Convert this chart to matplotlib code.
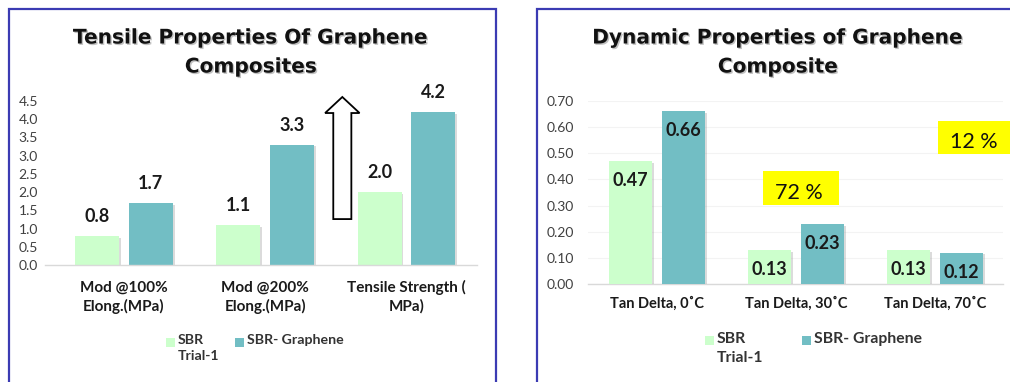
import matplotlib
matplotlib.use("Agg")
import matplotlib.pyplot as plt
import matplotlib.patheffects as pe
import matplotlib.transforms as mtransforms
from matplotlib.patches import Rectangle, Polygon
import numpy as np

# ---- data ----
series_names = ["SBR\nTrial-1", "SBR- Graphene"]

tensile_categories = ["Mod @100%\nElong.(MPa)", "Mod @200%\nElong.(MPa)", "Tensile Strength (\nMPa)"]
tensile_sbr = [0.8, 1.1, 2.0]
tensile_graphene = [1.7, 3.3, 4.2]
tensile_ticks = [0.0, 0.5, 1.0, 1.5, 2.0, 2.5, 3.0, 3.5, 4.0, 4.5]

dynamic_categories = ["Tan Delta, 0˚C", "Tan Delta, 30˚C", "Tan Delta, 70˚C"]
dynamic_sbr = [0.47, 0.13, 0.13]
dynamic_graphene = [0.66, 0.23, 0.12]
dynamic_ticks = [0.00, 0.10, 0.20, 0.30, 0.40, 0.50, 0.60, 0.70]
dynamic_callouts = ["72 %", "12 %"]

# ---- style ----
W, H = 1010, 382
C_SBR = "#ccffcc"
C_GRA = "#72bec4"
C_FRAME = "#3b3bb3"
TXT = "#1a1a1a"
BODY = ["Lato", "DejaVu Sans"]
TITLE = ["DejaVu Sans"]

fig = plt.figure(figsize=(W / 100, H / 100), dpi=100)
fig.patch.set_facecolor("white")


def fx(x):
    return x / W


def fy(y):
    return 1 - y / H


def px_axes(x0, y0, x1, y1):
    return fig.add_axes([fx(x0), fy(y1), (x1 - x0) / W, (y1 - y0) / H])


shadow = [pe.withSimplePatchShadow(offset=(1.2, -1.2), shadow_rgbFace="#999999", alpha=0.35)]
title_fx = [pe.withSimplePatchShadow(offset=(1, -1), shadow_rgbFace="#777777", alpha=0.45)]

# panel frames
fig.patches.append(Rectangle((fx(8.5), fy(400)), (495.5 - 8.5) / W, (400 - 8.5) / H,
                             transform=fig.transFigure, fill=False, ec=C_FRAME, lw=1.6))
fig.patches.append(Rectangle((fx(536.5), fy(400)), (1030 - 536.5) / W, (400 - 8.5) / H,
                             transform=fig.transFigure, fill=False, ec=C_FRAME, lw=1.6))


def style_axes(ax, ticks, fmt, pad):
    for s in ["top", "right", "left"]:
        ax.spines[s].set_visible(False)
    ax.spines["bottom"].set_color("#d9d9d9")
    ax.spines["bottom"].set_linewidth(1.0)
    ax.set_yticks(ticks)
    ax.set_yticklabels([fmt.format(t) for t in ticks], fontfamily=BODY, fontsize=10, color="#404040")
    ax.tick_params(axis="y", length=0, pad=pad)
    ax.set_xticks([])
    ax.set_facecolor("none")


def draw_legend(x_sbr, x_gra, y, size):
    for xm, col, name in [(x_sbr, C_SBR, series_names[0]), (x_gra, C_GRA, series_names[1])]:
        fig.patches.append(Rectangle((fx(xm), fy(y + 5)), 9 / W, 9 / H,
                                     transform=fig.transFigure, fc=col, ec="none"))
        fig.text(fx(xm + 12), fy(y - 8), name, ha="left", va="top", fontfamily=BODY,
                 fontsize=size, fontweight="bold", color="#333333", linespacing=1.45)


# ---------------- left: tensile ----------------
axL = px_axes(45, 101, 477, 265)
xL = np.arange(len(tensile_categories))
bw, off = 0.312, 0.19
b1 = axL.bar(xL - off, tensile_sbr, bw, color=C_SBR, path_effects=shadow)
b2 = axL.bar(xL + off, tensile_graphene, bw, color=C_GRA, path_effects=shadow)
axL.set_xlim(-0.56, 2.50)
axL.set_ylim(0, 4.5)
style_axes(axL, tensile_ticks, "{:.1f}", 5)

for bars, vals in [(b1, tensile_sbr), (b2, tensile_graphene)]:
    for r, v in zip(bars, vals):
        axL.annotate(f"{v:.1f}", (r.get_x() + r.get_width() / 2, v), xytext=(0, 10),
                     textcoords="offset points", ha="center", va="baseline",
                     fontfamily=BODY, fontsize=13, fontweight="bold", color=TXT)

trL = mtransforms.blended_transform_factory(axL.transData, fig.transFigure)
for x, lab in zip(xL, tensile_categories):
    axL.text(x, fy(297), lab, transform=trL, ha="center", va="center", fontfamily=BODY,
             fontsize=11, fontweight="bold", color=TXT, linespacing=1.35)

# hollow up-arrow between the second and third groups
ax_c, sw, hw = 1.546, 0.064, 0.122
y_b, y_h, y_t = 1.26, 4.17, 4.61
axL.add_patch(Polygon([(ax_c - sw, y_b), (ax_c + sw, y_b), (ax_c + sw, y_h), (ax_c + hw, y_h),
                       (ax_c, y_t), (ax_c - hw, y_h), (ax_c - sw, y_h)],
                      closed=True, fc="white", ec="black", lw=1.3, clip_on=False, zorder=5))

fig.text(fx(251), fy(38), "Tensile Properties Of Graphene", ha="center", va="center",
         fontfamily=TITLE, fontsize=14.5, fontweight="bold", color="#111111", path_effects=title_fx)
fig.text(fx(251), fy(67), "Composites", ha="center", va="center",
         fontfamily=TITLE, fontsize=14.5, fontweight="bold", color="#111111", path_effects=title_fx)

draw_legend(166, 235, 342, 10.2)

# ---------------- right: dynamic ----------------
axR = px_axes(588, 101, 1003, 284)
xR = np.arange(len(dynamic_categories))
c1 = axR.bar(xR - off, dynamic_sbr, bw, color=C_SBR, path_effects=shadow, zorder=3)
c2 = axR.bar(xR + off, dynamic_graphene, bw, color=C_GRA, path_effects=shadow, zorder=3)
axR.set_xlim(-0.496, 2.49)
axR.set_ylim(0, 0.70)
axR.yaxis.grid(True, color="#f3f3f3", lw=0.8)
axR.set_axisbelow(True)
style_axes(axR, dynamic_ticks, "{:.2f}", 10)

for bars, vals in [(c1, dynamic_sbr), (c2, dynamic_graphene)]:
    for r, v in zip(bars, vals):
        axR.annotate(f"{v:.2f}", (r.get_x() + r.get_width() / 2, v), xytext=(0, -14),
                     textcoords="offset points", ha="center", va="center",
                     fontfamily=BODY, fontsize=13, fontweight="bold", color=TXT, zorder=4)

trR = mtransforms.blended_transform_factory(axR.transData, fig.transFigure)
for x, lab in zip(xR, dynamic_categories):
    axR.text(x, fy(304), lab, transform=trR, ha="center", va="center", fontfamily=BODY,
             fontsize=10.5, fontweight="bold", color=TXT)

# yellow callouts
for (x0, y0, x1, y1, tx, ty), lab in zip([(763, 171, 839, 205, 799, 193),
                                          (938, 121, 1012, 154, 974, 142)], dynamic_callouts):
    fig.patches.append(Rectangle((fx(x0), fy(y1)), (x1 - x0) / W, (y1 - y0) / H,
                                 transform=fig.transFigure, fc="#ffff00", ec="none", zorder=6))
    fig.text(fx(tx), fy(ty), lab, ha="center", va="center", fontfamily=BODY,
             fontsize=15.5, color="#111111", zorder=7)

fig.text(fx(778), fy(38), "Dynamic Properties of Graphene", ha="center", va="center",
         fontfamily=TITLE, fontsize=14.5, fontweight="bold", color="#111111", path_effects=title_fx)
fig.text(fx(778), fy(67), "Composite", ha="center", va="center",
         fontfamily=TITLE, fontsize=14.5, fontweight="bold", color="#111111", path_effects=title_fx)

draw_legend(705, 802, 340, 11.3)

fig.savefig("out.png", dpi=100, facecolor="white")
